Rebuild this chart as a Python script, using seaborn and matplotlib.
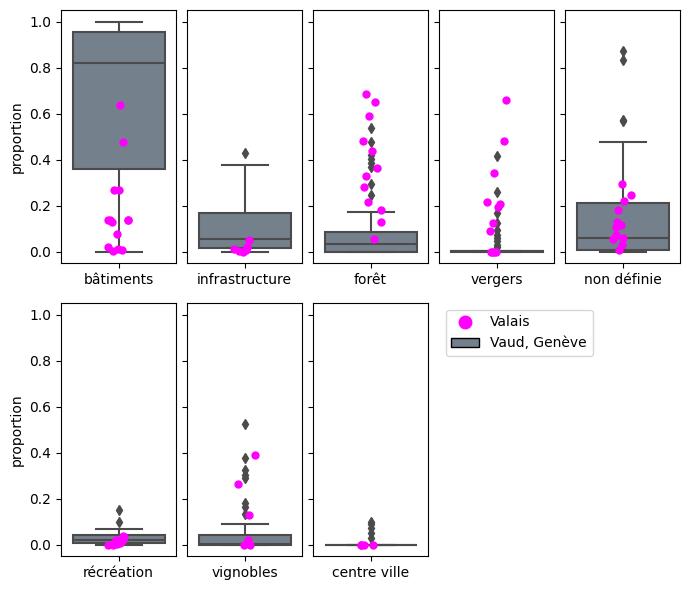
import numpy as np
import pandas as pd
import matplotlib
matplotlib.use("Agg")
import matplotlib.pyplot as plt
import seaborn as sns
from matplotlib.lines import Line2D
from matplotlib.patches import Patch

np.random.seed(3)

categories = ["bâtiments", "infrastructure", "forêt", "vergers",
              "non définie", "récréation", "vignobles", "centre ville"]

# Vaud, Genève (box plots)
vd_batiments = [0.0, 0.12, 0.2, 0.28, 0.33, 0.36, 0.5, 0.62, 0.7, 0.78, 0.82,
                0.85, 0.88, 0.91, 0.93, 0.955, 0.96, 0.97, 0.98, 0.99, 1.0]
vd_infrastructure = [0.0, 0.003, 0.006, 0.01, 0.014, 0.017, 0.025, 0.032, 0.04, 0.048,
                     0.055, 0.07, 0.09, 0.11, 0.14, 0.17, 0.2, 0.24, 0.3, 0.38, 0.43]
vd_foret = [0.0, 0.0, 0.0, 0.0, 0.0, 0.0, 0.0, 0.0, 0.0, 0.0, 0.0,
            0.003, 0.006, 0.01, 0.014, 0.018, 0.022, 0.026, 0.03, 0.033, 0.035,
            0.04, 0.045, 0.05, 0.055, 0.06, 0.066, 0.072, 0.078, 0.083, 0.087,
            0.12, 0.172, 0.248, 0.297, 0.37, 0.385, 0.405, 0.42, 0.48, 0.54]
vd_vergers = [0.0, 0.0, 0.0, 0.0, 0.0, 0.0, 0.0, 0.0, 0.0, 0.0, 0.0,
              0.0, 0.0, 0.0, 0.001, 0.001, 0.001, 0.002, 0.002, 0.002, 0.002,
              0.003, 0.003, 0.003, 0.004, 0.004, 0.004, 0.005, 0.005, 0.005, 0.005,
              0.02, 0.03, 0.046, 0.06, 0.075, 0.097, 0.126, 0.168, 0.262, 0.419]
vd_non_definie = [0.0, 0.0, 0.002, 0.004, 0.006, 0.007, 0.015, 0.025, 0.035, 0.048,
                  0.059, 0.08, 0.11, 0.14, 0.18, 0.213, 0.477, 0.568, 0.575, 0.836, 0.872]
vd_recreation = [0.0, 0.002, 0.004, 0.006, 0.008, 0.01, 0.012, 0.014, 0.016, 0.018,
                 0.02, 0.024, 0.028, 0.032, 0.038, 0.045, 0.05, 0.06, 0.07, 0.1, 0.153]
vd_vignobles = [0.0, 0.0, 0.0, 0.0, 0.0, 0.0, 0.0, 0.0, 0.0, 0.0,
                0.001, 0.001, 0.002, 0.002, 0.003, 0.003, 0.004, 0.004, 0.005,
                0.01, 0.015, 0.02, 0.025, 0.028, 0.032, 0.035, 0.04, 0.043,
                0.089, 0.133, 0.163, 0.183, 0.29, 0.305, 0.324, 0.376, 0.527]
vd_centre_ville = [0.0, 0.0, 0.0, 0.0, 0.0, 0.0, 0.0, 0.0, 0.0, 0.0, 0.0,
                   0.0, 0.0, 0.0, 0.0, 0.0, 0.03, 0.05, 0.075, 0.09, 0.1]

# Valais (strip points)
vs_batiments = [0.64, 0.48, 0.27, 0.27, 0.14, 0.14, 0.14, 0.13, 0.14, 0.08,
                0.02, 0.015, 0.01, 0.005]
vs_infrastructure = [0.054, 0.02, 0.015, 0.01, 0.005, 0.0]
vs_foret = [0.688, 0.654, 0.591, 0.483, 0.439, 0.367, 0.329, 0.283, 0.217,
            0.183, 0.132, 0.058]
vs_vergers = [0.661, 0.483, 0.345, 0.219, 0.21, 0.196, 0.126, 0.093,
              0.0, 0.0, 0.0, 0.0]
vs_non_definie = [0.297, 0.248, 0.222, 0.183, 0.129, 0.119, 0.109, 0.074,
                  0.061, 0.057, 0.03, 0.01]
vs_recreation = [0.04, 0.035, 0.03, 0.025, 0.02, 0.018, 0.015, 0.01, 0.008,
                 0.005, 0.0, 0.0]
vs_vignobles = [0.392, 0.267, 0.131, 0.022, 0.0, 0.0]
vs_centre_ville = [0.0, 0.0, 0.0, 0.0]

vd_data = [vd_batiments, vd_infrastructure, vd_foret, vd_vergers,
           vd_non_definie, vd_recreation, vd_vignobles, vd_centre_ville]
vs_data = [vs_batiments, vs_infrastructure, vs_foret, vs_vergers,
           vs_non_definie, vs_recreation, vs_vignobles, vs_centre_ville]

box_color = "slategray"
line_color = "#4b4b4b"

fig, axes = plt.subplots(2, 5, figsize=(6.9, 5.9), dpi=100, sharey=True)
fig.subplots_adjust(left=61 / 690, right=680 / 690, top=1 - 10 / 590,
                    bottom=1 - 556 / 590, wspace=11 / 115, hspace=40 / 253)
flat = axes.flatten()

for i, cat in enumerate(categories):
    ax = flat[i]
    dfb = pd.DataFrame({"categorie": cat, "proportion": vd_data[i]})
    dfs = pd.DataFrame({"categorie": cat, "proportion": vs_data[i]})
    sns.boxplot(data=dfb, x="categorie", y="proportion", color=box_color,
                linecolor=line_color, linewidth=1.5, fliersize=5,
                flierprops=dict(marker="d", markerfacecolor=line_color,
                                markeredgecolor=line_color),
                ax=ax)
    sns.stripplot(data=dfs, x="categorie", y="proportion", color="magenta",
                  size=6, jitter=0.1, ax=ax, zorder=5)
    ax.set_xlabel("")
    if i % 5 == 0:
        ax.set_ylabel("proportion")
    else:
        ax.set_ylabel("")

flat[0].set_ylim(-0.048, 1.052)
flat[0].set_yticks([0.0, 0.2, 0.4, 0.6, 0.8, 1.0])

flat[8].axis("off")
flat[9].axis("off")

handles = [
    Line2D([], [], marker="o", color="magenta", linestyle="", markersize=9,
           label="Valais"),
    Patch(facecolor=sns.desaturate(box_color, 0.75), edgecolor="black",
          label="Vaud, Genève"),
]
flat[8].legend(handles=handles, loc="upper left")

fig.savefig("out.png", dpi=100)
